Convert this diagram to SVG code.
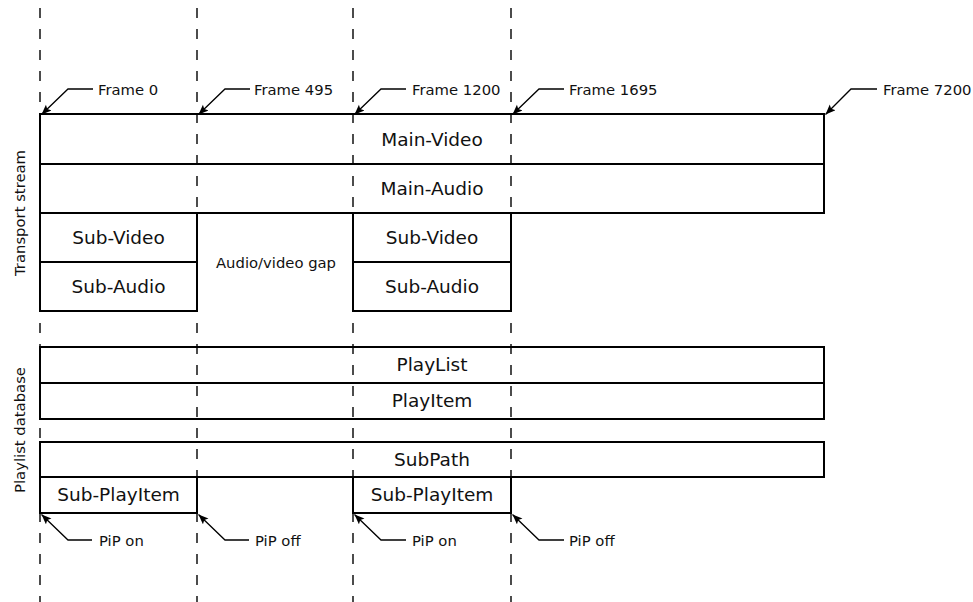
<svg xmlns="http://www.w3.org/2000/svg" width="973" height="602" viewBox="0 0 973 602">
<style>
.dash{stroke:#000;stroke-width:1.4;stroke-dasharray:10 11;fill:none}
.box{fill:none;stroke:#000;stroke-width:2}
.conn{fill:none;stroke:#000;stroke-width:1.3}
.lbl{font-family:"DejaVu Sans",sans-serif;font-size:18.5px;fill:#111;text-anchor:middle}
.sm{font-family:"DejaVu Sans",sans-serif;font-size:14.8px;fill:#111}
</style>
<defs>
<marker id="ah" markerUnits="userSpaceOnUse" markerWidth="12" markerHeight="10" refX="10" refY="4" orient="auto">
<path d="M0,0 L10,4 L0,8 L2,4 Z" fill="#000"/>
</marker>
</defs>
<rect width="973" height="602" fill="#fff"/>
<g id="gridlines">
<line class="dash" x1="40" y1="8" x2="40" y2="602"/>
<line class="dash" x1="197" y1="8" x2="197" y2="602"/>
<line class="dash" x1="353" y1="8" x2="353" y2="602"/>
<line class="dash" x1="511" y1="8" x2="511" y2="602"/>
</g>
<g id="main-stream">
<rect class="box" x="40" y="114" width="784" height="99"/>
<line class="box" x1="40" y1="164" x2="824" y2="164"/>
<text class="lbl" x="432" y="146">Main-Video</text>
<text class="lbl" x="432" y="195">Main-Audio</text>
</g>
<g id="sub-stream-1">
<rect class="box" x="40" y="213" width="157" height="98"/>
<line class="box" x1="40" y1="262" x2="197" y2="262"/>
<text class="lbl" x="118.5" y="244">Sub-Video</text>
<text class="lbl" x="118.5" y="293">Sub-Audio</text>
</g>
<g id="gap">
<text class="sm" x="276" y="268" text-anchor="middle">Audio/video gap</text>
</g>
<g id="sub-stream-2">
<rect class="box" x="353" y="213" width="158" height="98"/>
<line class="box" x1="353" y1="262" x2="511" y2="262"/>
<text class="lbl" x="432" y="244">Sub-Video</text>
<text class="lbl" x="432" y="293">Sub-Audio</text>
</g>
<g id="playlist">
<rect class="box" x="40" y="347" width="784" height="72"/>
<line class="box" x1="40" y1="383" x2="824" y2="383"/>
<text class="lbl" x="432" y="371">PlayList</text>
<text class="lbl" x="432" y="407">PlayItem</text>
</g>
<g id="subpath">
<rect class="box" x="40" y="442" width="784" height="35"/>
<text class="lbl" x="432" y="466">SubPath</text>
</g>
<g id="subplayitem-1">
<rect class="box" x="40" y="477" width="157" height="36"/>
<text class="lbl" x="118.5" y="501">Sub-PlayItem</text>
</g>
<g id="subplayitem-2">
<rect class="box" x="353" y="477" width="158" height="36"/>
<text class="lbl" x="432" y="501">Sub-PlayItem</text>
</g>
<g id="side-labels">
<text class="sm" transform="translate(25,213) rotate(-90)" text-anchor="middle">Transport stream</text>
<text class="sm" transform="translate(25,430) rotate(-90)" text-anchor="middle">Playlist database</text>
</g>
<g id="connectors">
<path class="conn" marker-end="url(#ah)" d="M93,89 H68 L41.5,114.5"/>
<path class="conn" marker-end="url(#ah)" d="M250,89 H225 L198.5,114.5"/>
<path class="conn" marker-end="url(#ah)" d="M406,89 H381 L354.5,114.5"/>
<path class="conn" marker-end="url(#ah)" d="M564,89 H539 L512.5,114.5"/>
<path class="conn" marker-end="url(#ah)" d="M877,89 H851 L825.5,114.5"/>
<path class="conn" marker-end="url(#ah)" d="M92,540 H68 L41.5,514.5"/>
<path class="conn" marker-end="url(#ah)" d="M249,540 H225 L198.5,514.5"/>
<path class="conn" marker-end="url(#ah)" d="M406,540 H381 L354.5,514.5"/>
<path class="conn" marker-end="url(#ah)" d="M564,540 H539 L512.5,514.5"/>
</g>
<g id="frame-labels">
<text class="sm" x="98" y="95">Frame 0</text>
<text class="sm" x="254" y="95">Frame 495</text>
<text class="sm" x="412" y="95">Frame 1200</text>
<text class="sm" x="569" y="95">Frame 1695</text>
<text class="sm" x="883" y="95">Frame 7200</text>
</g>
<g id="pip-labels">
<text class="sm" x="99" y="546">PiP on</text>
<text class="sm" x="255" y="546">PiP off</text>
<text class="sm" x="412" y="546">PiP on</text>
<text class="sm" x="569" y="546">PiP off</text>
</g>
</svg>
